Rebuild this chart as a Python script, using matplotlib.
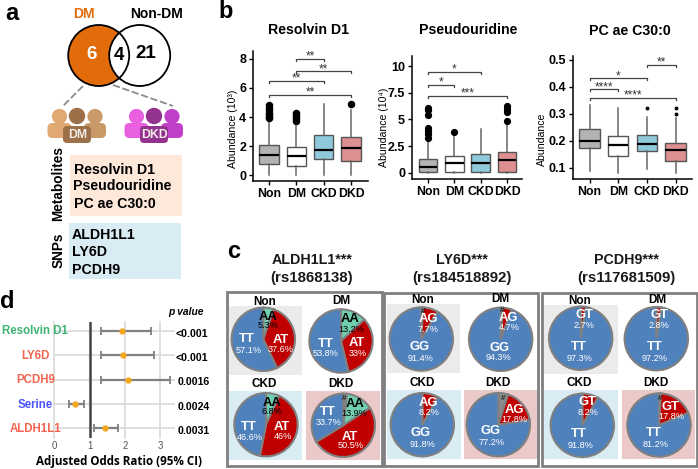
#!/usr/bin/env python3
"""Multi-panel figure: venn + icons (a), boxplots (b), genotype pies (c), forest plot (d)."""

import matplotlib

matplotlib.use("Agg")
import matplotlib.patches as mpatches
import matplotlib.pyplot as plt

plt.rcParams["font.family"] = ["Liberation Sans", "DejaVu Sans"]

W, H = 698, 469

GROUPS = ["Non", "DM", "CKD", "DKD"]

# panel a
VENN_COUNTS = ["6", "4", "21"]
METABOLITES = ["Resolvin D1", "Pseudouridine", "PC ae C30:0"]
SNPS = ["ALDH1L1", "LY6D", "PCDH9"]

# panel b: q1, median, q3, low whisker, high whisker, outliers per group
RES_Q1 = [0.75, 0.6, 1.1, 1.0]
RES_MED = [1.38, 1.3, 1.75, 1.85]
RES_Q3 = [2.05, 1.9, 2.75, 2.6]
RES_LO = [0, 0, 0, 0]
RES_HI = [3.8, 3.4, 4.9, 4.5]
RES_OUT = [[3.9, 4.0, 4.15, 4.3, 4.5, 4.65, 4.8], [3.7, 3.85, 4.0, 4.15, 4.3], [], [4.9]]
RES_TICKS = [0, 2, 4, 6, 8]
RES_BRACKETS = [(2, 3, 8.0, "**"), (2, 4, 7.17, "**"), (1, 3, 6.5, "**"), (1, 4, 5.55, "**")]

PSE_Q1 = [0.1, 0.05, 0.05, 0.1]
PSE_MED = [0.55, 0.87, 0.87, 1.15]
PSE_Q3 = [1.25, 1.56, 1.72, 1.97]
PSE_LO = [0, 0, 0, 0]
PSE_HI = [3.2, 3.6, 4.06, 4.5]
PSE_OUT = [[3.3, 3.6, 3.9, 4.2, 5.4, 5.9, 6.1], [3.85], [], [4.85, 5.7, 6.0, 6.3]]
PSE_TICKS = [0, 2.5, 5, 7.5, 10]
PSE_TICKLABELS = ["0", "2.5", "5", "7.5", "10"]
PSE_BRACKETS = [(1, 3, 9.44, "*"), (1, 2, 8.25, "*"), (1, 4, 7.2, "***")]

PC_Q1 = [0.171, 0.142, 0.161, 0.126]
PC_MED = [0.2, 0.182, 0.187, 0.165]
PC_Q3 = [0.242, 0.216, 0.22, 0.193]
PC_LO = [0.088, 0.078, 0.094, 0.078]
PC_HI = [0.331, 0.322, 0.289, 0.283]
PC_OUT = [[], [], [0.32], [0.299, 0.322]]
PC_TICKS = [0.1, 0.2, 0.3, 0.4, 0.5]
PC_BRACKETS = [(3, 4, 0.481, "**"), (1, 3, 0.432, "*"), (1, 2, 0.391, "****"), (1, 4, 0.36, "****")]

# panel c: shares per group, genotype order runs clockwise from 12 o'clock
ALDH_NAMES = ["#", "AA", "AT", "TT"]
ALDH_SHARES = [[0, 5.3, 37.6, 57.1], [0, 13.2, 33, 53.8], [0, 6.8, 46, 46.6], [1.9, 13.9, 50.5, 33.7]]
LY6D_NAMES = ["#", "AG", "GG"]
LY6D_SHARES = [[0.9, 7.7, 91.4], [1.0, 4.7, 94.3], [0, 8.2, 91.8], [5.0, 17.8, 77.2]]
PCDH_NAMES = ["#", "GT", "TT"]
PCDH_SHARES = [[0, 2.7, 97.3], [0, 2.8, 97.2], [0, 8.2, 91.8], [1.0, 17.8, 81.2]]

# panel d
OR_NAMES = ["Resolvin D1", "LY6D", "PCDH9", "Serine", "ALDH1L1"]
OR_MEAN = [1.92, 1.96, 2.1, 0.6, 1.44]
OR_LOW = [1.33, 1.33, 1.32, 0.41, 1.13]
OR_HIGH = [2.73, 2.83, 3.27, 0.84, 1.8]
OR_P = ["<0.001", "<0.001", "0.0016", "0.0024", "0.0031"]
OR_TICKS = [0, 1, 2, 3]

BOX_COLORS = ["#b3b3b3", "#ffffff", "#8fc9dc", "#de8f8f"]
GENO_COLORS = {
    "#": "#8c8c8c", "AA": "#6fcfb0", "AT": "#c00000", "AG": "#c00000", "GT": "#c00000",
    "TT": "#4f81bd", "GG": "#4f81bd",
}
GROUP_BG = {"Non": "#ebebeb", "CKD": "#daecf3", "DKD": "#ecc9c9"}
OR_COLORS = ["#3cb371", "#f4634f", "#f4634f", "#4a55ff", "#f4634f"]

fig = plt.figure(figsize=(W / 100, H / 100), dpi=100)
ov = fig.add_axes([0, 0, 1, 1], zorder=5)
ov.set_xlim(0, W)
ov.set_ylim(H, 0)
ov.axis("off")
back = fig.add_axes([0, 0, 1, 1], zorder=0)
back.set_xlim(0, W)
back.set_ylim(H, 0)
back.axis("off")


def px_axes(x0, y0, x1, y1, **kw):
    return fig.add_axes([x0 / W, 1 - y1 / H, (x1 - x0) / W, (y1 - y0) / H], **kw)


def label(x, y, s, size=8.3, weight="bold", color="black", **kw):
    kw.setdefault("ha", "center")
    kw.setdefault("va", "center")
    ov.text(x, y, s, fontsize=size, fontweight=weight, color=color, **kw)


for x, y, s in [(11.5, 13, "a"), (226, 11, "b"), (234, 251, "c"), (7.5, 302, "d")]:
    label(x, y, s, size=17)


# --- panel a ---
def panel_a():
    left = mpatches.Circle((98.7, 55.5), 30.5, fc="#e36c0a", ec="none")
    right = mpatches.Circle((139.7, 55.5), 30.5, fc="none", ec="none")
    lens = mpatches.Circle((98.7, 55.5), 30.5, fc="white", ec="none")
    for p in (left, right, lens):
        ov.add_patch(p)
    lens.set_clip_path(right)
    for cx in (98.7, 139.7):
        ov.add_patch(mpatches.Circle((cx, 55.5), 30.5, fc="none", ec="black", lw=1.3))
    label(83.5, 14, "DM", size=10, color="#e36c0a")
    label(156.5, 14, "Non-DM", size=10)
    label(91.5, 54.5, VENN_COUNTS[0], size=13.5, color="white")
    label(119, 55, VENN_COUNTS[1], size=13.5)
    label(146, 54, VENN_COUNTS[2], size=13.5)

    for xs, ys in [((83, 63), (86, 106)), ((113, 173), (85, 106))]:
        ov.plot(xs, ys, color="#8a8a8a", lw=1.3, ls=(0, (4, 1.5)))

    def people(x_off, tones, name):
        # heads then bodies, outer figures first and the middle one on top
        for cx, w, col in [(59.5, 24, tones[0]), (95, 22, tones[2])]:
            cx += x_off
            ov.add_patch(mpatches.FancyBboxPatch((cx - w / 2, 123), w, 15, boxstyle="round,pad=0,rounding_size=5",
                                                 fc=col, ec="none"))
            ov.add_patch(mpatches.Circle((cx, 116.5), 7.6, fc=col, ec="none"))
        cx = 77 + x_off
        ov.add_patch(mpatches.FancyBboxPatch((cx - 14, 126), 28, 17, boxstyle="round,pad=0,rounding_size=4",
                                             fc=tones[1], ec="none"))
        ov.add_patch(mpatches.Circle((cx, 116), 8.2, fc=tones[1], ec="none"))
        label(cx + 0.5, 135, name, size=8.8, color="#f4eee8")

    people(0, ["#e0a872", "#9c7048", "#c99a68"], "DM")
    people(77, ["#e860e0", "#94338f", "#c040c8"], "DKD")

    ov.add_patch(mpatches.Rectangle((69.5, 155.5), 112, 60.5, fc="#fde8d9", ec="none"))
    ov.add_patch(mpatches.Rectangle((68.5, 223.5), 112, 56, fc="#daecf3", ec="none"))
    for yy, s in zip((169.5, 186.5, 204), METABOLITES):
        label(73.5, yy, s, size=10.2, ha="left")
    for yy, s in zip((235, 252, 269.5), SNPS):
        label(72, yy, s, size=10.2, ha="left")
    label(58.5, 184, "Metabolites", size=9.8, rotation=90)
    label(58.5, 250.5, "SNPs", size=9.8, rotation=90)


panel_a()


# --- panel b ---
def boxpanel(box, xlim, ylim, q1, med, q3, lo, hi, out, ticks, ticklabels, brackets, flier_size):
    ax = px_axes(*box, zorder=2)
    ax.patch.set_alpha(0)
    stats = []
    for i, name in enumerate(GROUPS):
        stats.append({"label": name, "q1": q1[i], "med": med[i], "q3": q3[i],
                      "whislo": lo[i], "whishi": hi[i], "fliers": out[i]})
    parts = ax.bxp(stats, widths=0.71, patch_artist=True, showcaps=False,
                   medianprops={"color": "black", "lw": 1.6},
                   boxprops={"edgecolor": "#555555", "lw": 1},
                   whiskerprops={"color": "#666666", "lw": 1.1},
                   flierprops={"marker": "o", "markerfacecolor": "black", "markeredgecolor": "black",
                               "markersize": flier_size})
    for patch, col in zip(parts["boxes"], BOX_COLORS):
        patch.set_facecolor(col)
    ax.set_xlim(*xlim)
    ax.set_ylim(*ylim)
    ax.set_yticks(ticks, ticklabels)
    ax.spines[["top", "right"]].set_visible(False)
    ax.spines[["left", "bottom"]].set_linewidth(1.1)
    ax.tick_params(length=3, width=1, pad=2)
    for t in ax.get_xticklabels():
        t.set_fontweight("bold")
        t.set_fontsize(8.8)
    for t in ax.get_yticklabels():
        t.set_fontweight("bold")
        t.set_fontsize(9)
    drop = (ylim[1] - ylim[0]) * 0.016
    for a, b, y, stars in brackets:
        ax.plot([a, a, b, b], [y - drop, y, y, y - drop], color="#444444", lw=0.9)
        ax.annotate(stars, ((a + b) / 2, y), xytext=(0, 1.5), textcoords="offset points",
                    ha="center", va="center", fontsize=8.5, color="#333333")
    return ax


boxpanel((253, 51, 368, 181), (0.414, 4.62), (-0.41, 8.55), RES_Q1, RES_MED, RES_Q3, RES_LO, RES_HI,
         RES_OUT, RES_TICKS, [str(t) for t in RES_TICKS], RES_BRACKETS, 4.4)
boxpanel((412, 56, 522, 178.7), (0.39, 4.57), (-0.56, 10.94), PSE_Q1, PSE_MED, PSE_Q3, PSE_LO, PSE_HI,
         PSE_OUT, PSE_TICKS, PSE_TICKLABELS, PSE_BRACKETS, 4.2)
boxpanel((572.7, 56, 692, 179), (0.41, 4.57), (0.0575, 0.5145), PC_Q1, PC_MED, PC_Q3, PC_LO, PC_HI,
         PC_OUT, PC_TICKS, [f"{t:.1f}" for t in PC_TICKS], PC_BRACKETS, 1.8)

label(309, 30.5, "Resolvin D1", size=10.2)
label(468, 29.5, "Pseudouridine", size=10.2)
label(630, 31, "PC ae C30:0", size=10.2)
label(233, 129, "Abundance (10³)", size=7.6, weight="normal", rotation=90)
label(384, 127, "Abundance (10⁴)", size=7.6, weight="normal", rotation=90)
label(541.5, 139, "Abundance", size=7.6, weight="normal", rotation=90)

# --- panel c ---
FRAMES = [(226.7, 292.3, 381.7, 466), (384, 293, 537.7, 466), (542.3, 293, 697.3, 466)]
for x0, y0, x1, y1 in FRAMES:
    ov.add_patch(mpatches.Rectangle((x0, y0), x1 - x0, y1 - y0, fc="none", ec="#808080", lw=2))

GENE_TITLES = [(311.7, "ALDH1L1***", "(rs1868138)"), (462, "LY6D***", "(rs184518892)"), (626.5, "PCDH9***", "(rs117681509)")]
for x, a, b in GENE_TITLES:
    label(x, 260.5, a, size=10.3, color="#1a1a1a")
    label(x, 278, b, size=10.8, color="#1a1a1a")

# group tiles, pie centres and group-name anchors in reference pixels
TILES = {
    0: {"Non": (229, 306, 302.3, 375), "CKD": (229, 391, 302.3, 460), "DKD": (306, 391, 380, 460)},
    1: {"Non": (387.3, 304.3, 460, 373.3), "CKD": (387.3, 390, 461, 459.3), "DKD": (463.7, 390, 537.3, 459.3)},
    2: {"Non": (544.3, 305, 617.7, 374), "CKD": (544.3, 390, 618.3, 459.3), "DKD": (621.7, 390, 695, 459.3)},
}
CENTRES = [
    [(263.3, 339.3), (341, 341), (266, 424.7), (343.3, 425.3)],
    [(421.3, 339), (500.7, 339.3), (422.3, 424.7), (498.3, 424.7)],
    [(580.7, 338.3), (656.3, 338.7), (582.3, 425.3), (659, 425)],
]
NAME_XY = [
    [(264.3, 301.7), (341, 301), (264.3, 384.3), (340.7, 384)],
    [(422.3, 300), (500, 299.3), (422, 383.3), (498.3, 383.3)],
    [(580, 300.7), (657, 300), (579.3, 383.3), (656, 383.3)],
]
# (genotype label xy, percent label xy) per genotype
PIE_TEXT = [
    [{"AA": ((267.7, 317.3), (267.7, 326)), "TT": ((246.7, 339.3), (248.3, 350.7)), "AT": ((281, 340), (281, 350))},
     {"AA": ((350, 319), (351, 329)), "TT": ((325.7, 344), (326, 353.3)), "AT": ((356.7, 343.3), (357.7, 353.3))},
     {"AA": ((271.7, 402.7), (271.7, 411.7)), "TT": ((248.3, 426.7), (250, 438)), "AT": ((281.7, 426.7), (282.7, 436.7))},
     {"TT": ((327.7, 411.7), (329, 422.7)), "AA": ((355, 404), (354.3, 414)), "AT": ((350, 436.7), (351, 446))}],
    [{"AG": ((428.3, 319.3), (428.3, 329)), "GG": ((420, 347.3), (420.7, 358.3))},
     {"AG": ((508.3, 317.7), (509.3, 327.3)), "GG": ((499, 348), (499, 357))},
     {"AG": ((428.3, 402.7), (429.3, 412.7)), "GG": ((420.7, 433.3), (422.3, 444.3))},
     {"AG": ((514, 410), (514, 419.3)), "GG": ((490.7, 431.3), (492, 442.3))}],
    [{"GT": ((584, 315.3), (583.7, 325.3)), "TT": ((579, 346.7), (579.3, 358.3))},
     {"GT": ((659.3, 315.3), (659.3, 325)), "TT": ((654.3, 346.7), (655, 358.3))},
     {"GT": ((587.3, 402), (588.3, 412.3)), "TT": ((578.3, 434), (580.7, 445.3))},
     {"GT": ((670.7, 406.7), (671.7, 416.7)), "TT": ((653.3, 433.3), (655.3, 444.3))}],
]
HASH_XY = [
    {3: (344.3, 398.5)},
    {0: (423.3, 311.5), 1: (502, 311), 3: (503.3, 399)},
    {3: (660, 399)},
]
BLACK_TEXT = {"AA"}
PIE_R = 31.7
GENES = [(ALDH_NAMES, ALDH_SHARES), (LY6D_NAMES, LY6D_SHARES), (PCDH_NAMES, PCDH_SHARES)]

for g, (names, shares) in enumerate(GENES):
    for key, (x0, y0, x1, y1) in TILES[g].items():
        back.add_patch(mpatches.Rectangle((x0, y0), x1 - x0, y1 - y0, fc=GROUP_BG[key], ec="none"))
    for i, group in enumerate(GROUPS):
        cx, cy = CENTRES[g][i]
        ax = px_axes(cx - PIE_R * 1.1, cy - PIE_R * 1.1, cx + PIE_R * 1.1, cy + PIE_R * 1.1, zorder=2)
        ax.patch.set_alpha(0)
        vals = [(n, v) for n, v in zip(names, shares[i]) if v > 0]
        ax.pie([v for _, v in vals], colors=[GENO_COLORS[n] for n, _ in vals], startangle=90,
               counterclock=False, wedgeprops={"edgecolor": "#808080", "linewidth": 1.5})
        ax.set_xlim(-1.1, 1.1)
        ax.set_ylim(-1.1, 1.1)
        label(*NAME_XY[g][i], group, size=8.5)
        share_of = dict(zip(names, shares[i]))
        for geno, (xy_name, xy_pct) in PIE_TEXT[g][i].items():
            col = "black" if geno in BLACK_TEXT else "white"
            label(*xy_name, geno, size=9.4, color=col)
            pct = share_of[geno]
            label(*xy_pct, f"{pct:g}%", size=6.6, weight="normal", color=col)
        if i in HASH_XY[g]:
            label(*HASH_XY[g][i], "#", size=5.5, weight="normal")

# --- panel d ---
ax = px_axes(54.3, 321.7, 175, 438, zorder=2)
ax.patch.set_alpha(0)
rows = list(range(len(OR_NAMES), 0, -1))
ax.set_xlim(0, (175 - 54.3) / 35.3)
ax.set_ylim(1 - 9.7 / 24.4, 5 + 9 / 24.4)
for t in OR_TICKS:
    if t != 1:
        ax.axvline(t, color="#dcdcdc", lw=1.3, clip_on=False, zorder=1)
for r in rows:
    ax.axhline(r, color="#dcdcdc", lw=1.3, zorder=1)
ax.axvline(1, color="#444444", lw=1.8, zorder=2)
ax.errorbar(OR_MEAN, rows, xerr=[[m - l for m, l in zip(OR_MEAN, OR_LOW)], [h - m for m, h in zip(OR_MEAN, OR_HIGH)]],
            fmt="none", ecolor="#808080", elinewidth=1.6, capsize=3, capthick=1.3, zorder=3)
ax.plot(OR_MEAN, rows, "o", color="#f5a81c", ms=3.6, zorder=4, ls="none")
ax.spines[:].set_visible(False)
ax.set_yticks([])
ax.set_xticks(OR_TICKS)
ax.tick_params(axis="x", length=0, pad=2.5, labelsize=7, labelcolor="#555555")

OR_NAME_RIGHT = [68, 50, 55, 53, 61]
OR_P_LEFT = [176, 176, 178, 178, 178]
OR_P_Y = [334, 357.7, 381.7, 406.7, 431]
for i, name in enumerate(OR_NAMES):
    y = 331.5 + i * 24.4
    label(OR_NAME_RIGHT[i], y, name, size=8.3, color=OR_COLORS[i], ha="right", zorder=6)
    label(OR_P_LEFT[i], OR_P_Y[i], OR_P[i], size=7.6, ha="left")
label(186, 312, "p value", size=7.4, style="italic")
label(119.5, 461.5, "Adjusted Odds Ratio (95% CI)", size=8.4, family="Open Sans")

fig.savefig("out.png", dpi=100)
